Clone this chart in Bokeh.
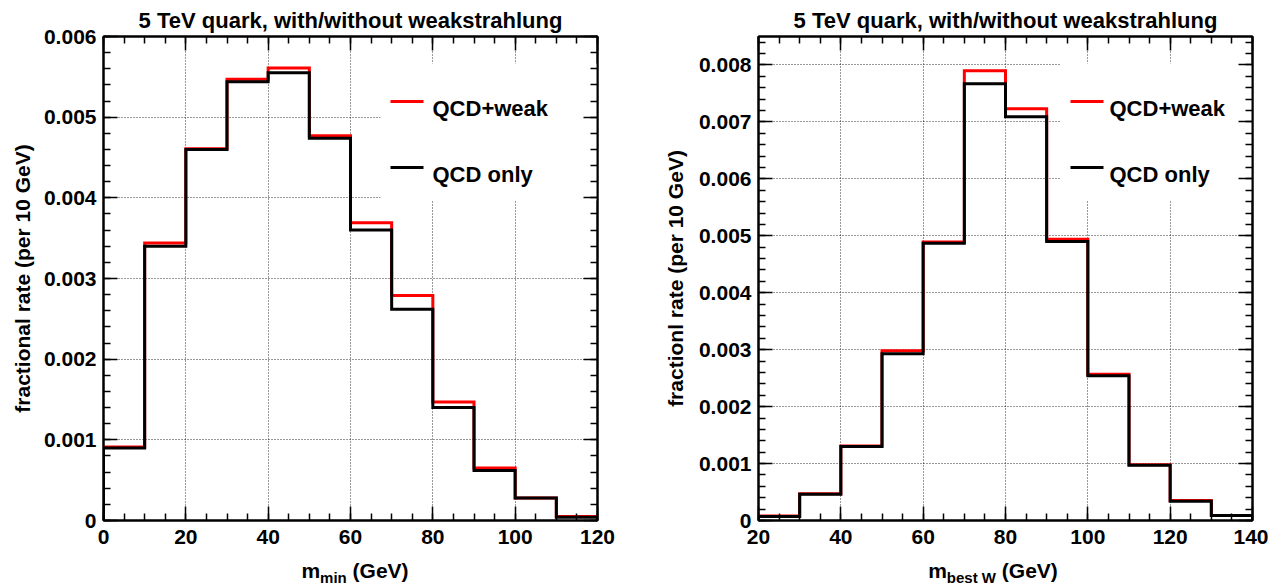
import numpy as np
from bokeh.plotting import figure
from bokeh.models import Range1d, LinearAxis, SingleIntervalTicker, CustomJSTickFormatter, Label, Div
from bokeh.layouts import row, column
from bokeh.embed import file_html
from bokeh.resources import INLINE

FONT = "Liberation Sans"

title_text = "5 TeV quark, with/without weakstrahlung"
legend_labels = ["QCD+weak", "QCD only"]

# ---- left panel: m_min ----
mmin_edges = [0, 10, 20, 30, 40, 50, 60, 70, 80, 90, 100, 110, 120]
mmin_qcd_weak = [0.00091, 0.00344, 0.00461, 0.00547, 0.00561, 0.00477, 0.00369, 0.00279, 0.00147, 0.00065, 0.00028, 0.00005]
mmin_qcd_only = [0.00090, 0.00340, 0.00460, 0.00544, 0.00555, 0.00474, 0.00360, 0.00262, 0.00140, 0.00062, 0.00028, 0.00004]
mmin_ylabel = "fractional rate (per 10 GeV)"
mmin_xlabel = ["m", "min", "(GeV)"]

# ---- right panel: m_best W ----
mbw_edges = [20, 30, 40, 50, 60, 70, 80, 90, 100, 110, 120, 130, 140]
mbw_qcd_weak = [0.00008, 0.00047, 0.00131, 0.00298, 0.00489, 0.00790, 0.00723, 0.00494, 0.00257, 0.00098, 0.00035, 0.00009]
mbw_qcd_only = [0.00007, 0.00046, 0.00130, 0.00293, 0.00487, 0.00767, 0.00709, 0.00490, 0.00254, 0.00097, 0.00034, 0.00009]
mbw_ylabel = "fractionl rate (per 10 GeV)"
mbw_xlabel = ["m", "best W", "(GeV)"]

FW, FH = 494, 484
MB_TOP, MB_BOTTOM = 36, 39


def style_axis(ax, ticker, show_labels):
    ax.ticker = ticker
    ax.axis_line_width = 2
    ax.axis_line_color = "black"
    ax.major_tick_in = 14
    ax.major_tick_out = 0
    ax.minor_tick_in = 7
    ax.minor_tick_out = 0
    ax.major_tick_line_width = 1.5
    ax.minor_tick_line_width = 1.5
    ax.major_tick_line_color = "black"
    ax.minor_tick_line_color = "black"
    ax.major_label_text_font = FONT
    ax.major_label_text_font_style = "bold"
    ax.major_label_text_color = "black"
    if show_labels:
        ax.major_label_text_font_size = "21px"
        ax.major_label_standoff = 7
    else:
        ax.major_label_text_font_size = "0px"
        ax.major_label_standoff = 0
        ax.formatter = CustomJSTickFormatter(code="return '';")


def make_panel(edges, weak, only, y_max, ylabel, mb_left, mb_right, leg_dx, text_dx, ylab_standoff):
    x0, x1 = edges[0], edges[-1]
    y0, y1 = 0.0, y_max
    p = figure(frame_width=FW, frame_height=FH,
               x_range=Range1d(x0, x1), y_range=Range1d(y0, y1),
               min_border_left=mb_left, min_border_right=mb_right,
               min_border_top=MB_TOP, min_border_bottom=MB_BOTTOM,
               output_backend="svg", toolbar_location=None,
               background_fill_color="white", border_fill_color="white")
    p.outline_line_color = "black"
    p.outline_line_width = 2

    p.add_layout(LinearAxis(), "above")
    p.add_layout(LinearAxis(), "right")

    xt = SingleIntervalTicker(interval=20, num_minor_ticks=4)
    yt = SingleIntervalTicker(interval=0.001, num_minor_ticks=5)
    for ax in p.below:
        style_axis(ax, xt, True)
        ax.major_label_standoff = 9
    for ax in p.above:
        style_axis(ax, xt, False)
    for ax in p.left:
        style_axis(ax, yt, True)
        ax.formatter = CustomJSTickFormatter(
            code="return Math.abs(tick) < 1e-9 ? '0' : tick.toFixed(3);")
        ax.axis_label = ylabel
        ax.axis_label_text_font = FONT
        ax.axis_label_text_font_style = "bold"
        ax.axis_label_text_font_size = "21px"
        ax.axis_label_text_color = "black"
        ax.axis_label_standoff = ylab_standoff
    for ax in p.right:
        style_axis(ax, yt, False)

    p.xgrid.ticker = xt
    p.ygrid.ticker = yt
    for g in (p.xgrid, p.ygrid):
        g.grid_line_color = "black"
        g.grid_line_alpha = 0.8
        g.grid_line_dash = "1 2"
        g.grid_line_width = 1

    # title
    p.title.text = title_text
    p.title.align = "center"
    p.title.text_font = FONT
    p.title.text_font_style = "bold"
    p.title.text_font_size = "22px"
    p.title.text_color = "black"
    p.title.standoff = 8

    def fx(dx):
        return x0 + dx / FW * (x1 - x0)

    def fy(dy):
        return y1 - dy / FH * (y1 - y0)

    # legend box (white) hides the grid
    p.quad(left=fx(leg_dx - 35), right=fx(FW), top=fy(27), bottom=fy(164),
           fill_color="white", line_color=None)

    # histograms
    xs = np.repeat(np.asarray(edges, dtype=float), 2)
    for vals, col in ((weak, "#ff0000"), (only, "black")):
        ys = np.concatenate([[0.0], np.repeat(np.asarray(vals, dtype=float), 2), [0.0]])
        p.line(xs, ys, line_color=col, line_width=3, line_join="miter")

    # legend
    for i, (lab, col) in enumerate(zip(legend_labels, ("#ff0000", "black"))):
        ly = 65 + 66 * i
        p.segment(x0=fx(leg_dx - 25), x1=fx(leg_dx + 8), y0=fy(ly), y1=fy(ly),
                  line_color=col, line_width=3)
        p.add_layout(Label(x=x0, y=y1, x_offset=leg_dx + text_dx, y_offset=-(ly + 7),
                           text=lab, text_font=FONT, text_font_style="bold",
                           text_font_size="22px", text_baseline="alphabetic",
                           text_align="left", text_color="black"))
    return p


def make_xtitle(xlabel, fig_width, mb_left, shift):
    html = (
        f'<div style="width:{FW}px;margin-left:{mb_left + shift}px;text-align:center;'
        f"font-family:'{FONT}';font-weight:bold;font-size:21px;line-height:24px;"
        f'color:black;white-space:nowrap;">'
        f'{xlabel[0]}<span style="font-size:15px;position:relative;top:5px;">{xlabel[1]}</span>'
        f' {xlabel[2]}</div>'
    )
    return Div(text=html, width=fig_width, height=26, margin=(0, 0, 0, 0))


L_LEFT, L_RIGHT = 103, 51
R_LEFT, R_RIGHT = 110, 16

p1 = make_panel(mmin_edges, mmin_qcd_weak, mmin_qcd_only, 0.006, mmin_ylabel,
                L_LEFT, L_RIGHT, 312, 17, 7)
p2 = make_panel(mbw_edges, mbw_qcd_weak, mbw_qcd_only, 0.0085, mbw_ylabel,
                R_LEFT, R_RIGHT, 337, 14, 9)

d1 = make_xtitle(mmin_xlabel, L_LEFT + FW + L_RIGHT, L_LEFT, 5)
d2 = make_xtitle(mbw_xlabel, R_LEFT + FW + R_RIGHT, R_LEFT, -12)

layout = row(column(p1, d1), column(p2, d2))
open("out.html", "w").write(file_html(layout, INLINE))
